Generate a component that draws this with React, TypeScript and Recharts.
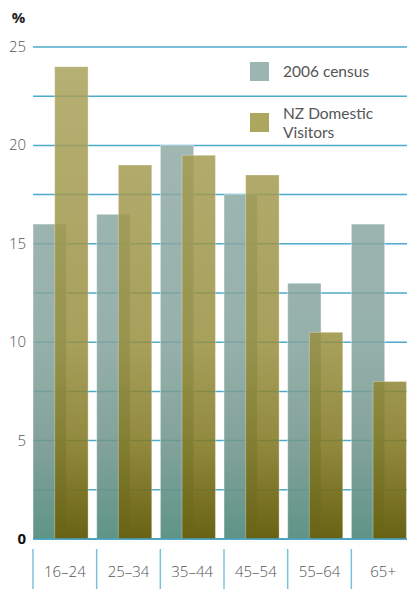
import { BarChart, Bar, XAxis, YAxis, CartesianGrid, Legend, Rectangle } from 'recharts'

const ageGroups = ['16–24', '25–34', '35–44', '45–54', '55–64', '65+']
const census2006 = [16, 16.5, 20, 17.5, 13, 16]
const domesticVisitors = [24, 19, 19.5, 18.5, 10.5, 8]
const yTicks = [0, 2.5, 5, 7.5, 10, 12.5, 15, 17.5, 20, 22.5, 25]

const data = ageGroups.map((group, i) => ({
  group,
  census: census2006[i],
  visitors: domesticVisitors[i],
}))

const FONT = '"Open Sans", "Noto Sans", sans-serif'
const LEGEND_FONT = 'Lato, "Open Sans", sans-serif'
const GRID = '#4eaacb'

// bars sit flush with the left separator of each category
const shiftedBar = (props: any) => <Rectangle {...props} x={props.x - 4} />

const YTick = (props: any) => {
  const { x, y, payload } = props
  if (payload.value % 5 !== 0) return <g />
  const zero = payload.value === 0
  return (
    <text
      x={x}
      y={y}
      dy={5}
      textAnchor="end"
      fontFamily={FONT}
      fontSize={15}
      fontWeight={zero ? 700 : 300}
      fill={zero ? '#111' : '#555'}
    >
      {payload.value}
    </text>
  )
}

const XTick = (props: any) => {
  const { x, y, payload } = props
  const half = payload.offset || 31.8
  return (
    <g>
      <line x1={x - half} x2={x - half} y1={y + 10} y2={y + 50} stroke="#7cc2da" strokeWidth={1.5} />
      <text x={x} y={y + 38} textAnchor="middle" fontFamily={FONT} fontSize={15} fontWeight={300} fill="#555">
        {payload.value}
      </text>
    </g>
  )
}

const legendItems = [
  { label: ['2006 census'], color: '#9bb5b0' },
  { label: ['NZ Domestic', 'Visitors'], color: '#aca65f' },
]

const renderLegend = () => (
  <div style={{ fontFamily: LEGEND_FONT, fontSize: 15.5, color: '#555' }}>
    {legendItems.map((item, i) => (
      <div key={i} style={{ display: 'flex', alignItems: 'flex-start', height: i === 0 ? 51 : 40 }}>
        <div style={{ width: 19, height: 19, background: item.color, marginRight: 14, flexShrink: 0 }} />
        <div style={{ lineHeight: '18.6px', marginTop: i === 0 ? 0 : -9 }}>
          {item.label.map((l) => (
            <div key={l} style={{ height: 18.6, whiteSpace: 'nowrap' }}>{l}</div>
          ))}
        </div>
      </div>
    ))}
  </div>
)

export default function App() {
  return (
    <div style={{ position: 'absolute', left: 0, top: 0, width: 407, height: 589, overflow: 'hidden', background: '#fff' }}>
      <BarChart
        width={415}
        height={589}
        data={data}
        margin={{ top: 47, right: 0, left: 0, bottom: 0 }}
        barSize={33.4}
        barGap={-11.7}
      >
        <defs>
          <linearGradient id="censusFill" gradientUnits="userSpaceOnUse" x1="0" y1="47" x2="0" y2="539">
            <stop offset="0" stopColor="#96aea9" stopOpacity={0.85} />
            <stop offset="0.6" stopColor="#83a29b" stopOpacity={0.85} />
            <stop offset="0.8" stopColor="#72968d" stopOpacity={0.88} />
            <stop offset="1" stopColor="#5f9487" stopOpacity={1} />
          </linearGradient>
          <linearGradient id="visitorFill" gradientUnits="userSpaceOnUse" x1="0" y1="47" x2="0" y2="539">
            <stop offset="0" stopColor="#aba35d" stopOpacity={0.85} />
            <stop offset="0.6" stopColor="#988f3e" stopOpacity={0.85} />
            <stop offset="0.8" stopColor="#837a25" stopOpacity={0.88} />
            <stop offset="1" stopColor="#686214" stopOpacity={1} />
          </linearGradient>
        </defs>
        <CartesianGrid vertical={false} stroke={GRID} strokeWidth={1.5} />
        <XAxis
          dataKey="group"
          height={50}
          axisLine={{ stroke: '#3f9dbd', strokeWidth: 1.5 }}
          tickLine={false}
          tickSize={0}
          tickMargin={0}
          interval={0}
          tick={<XTick />}
        />
        <YAxis
          width={33}
          domain={[0, 25]}
          ticks={yTicks}
          interval={0}
          axisLine={false}
          tickLine={false}
          tickSize={0}
          tickMargin={7}
          tick={<YTick />}
          label={{ value: '%', position: 'top', offset: 24, fontFamily: FONT, fontSize: 15, fontWeight: 700, fill: '#222', dx: 2 }}
        />
        <Legend
          layout="vertical"
          align="center"
          verticalAlign="middle"
          content={renderLegend}
          wrapperStyle={{ left: 250, top: 62, width: 160 }}
        />
        <Bar
          dataKey="census"
          name="2006 census"
          fill="url(#censusFill)"
          stroke="#ffffff"
          strokeOpacity={0.45}
          shape={shiftedBar}
          isAnimationActive={false}
        />
        <Bar
          dataKey="visitors"
          name="NZ Domestic Visitors"
          fill="url(#visitorFill)"
          stroke="#ffffff"
          strokeOpacity={0.3}
          shape={shiftedBar}
          isAnimationActive={false}
        />
      </BarChart>
    </div>
  )
}
